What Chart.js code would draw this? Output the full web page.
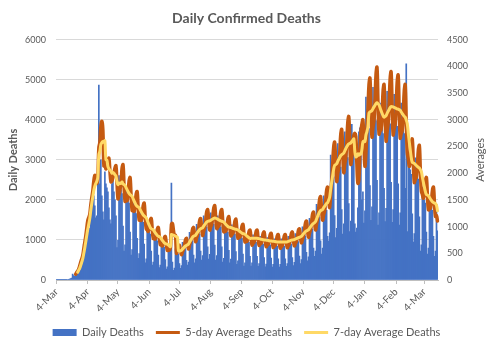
<!DOCTYPE html>
<html><head><meta charset="utf-8">
<script src="https://cdn.jsdelivr.net/npm/chart.js@4.4.1/dist/chart.umd.min.js"></script>
<style>html,body{margin:0;padding:0;background:#fff;}#wrap{width:493px;height:345px;}</style>
</head><body><div id="wrap"><canvas id="c" width="493" height="345"></canvas></div>
<script>
const monthNames = ['Jan','Feb','Mar','Apr','May','Jun','Jul','Aug','Sep','Oct','Nov','Dec'];
const tickLabels = ['4-Mar','4-Apr','4-May','4-Jun','4-Jul','4-Aug','4-Sep','4-Oct','4-Nov','4-Dec','4-Jan','4-Feb','4-Mar'];

const dailyDeaths = [
2,1,2,3,
4,5,6,8,7,10,9,
13,19,25,33,45,150,110,
100,130,225,260,300,400,480,
520,580,900,1000,1100,1250,1300,
1200,1300,1950,1950,1950,2100,1850,
1550,1600,2500,4870,2400,3000,2100,
1700,1500,2700,2400,2300,2200,1800,
1500,1400,2400,2500,2200,2000,1600,
810,990,2610,2430,2250,2160,1350,
720,880,2320,2160,2000,1920,1200,
620,760,2000,1860,1730,1660,1040,
540,660,1740,1620,1500,1440,900,
430,530,1390,1300,1200,1150,720,
370,450,1190,1110,1030,980,620,
310,370,990,920,850,820,510,
270,330,870,810,750,2420,450,
240,300,780,730,680,650,410,
290,360,940,880,810,780,490,
370,450,1190,1110,1030,980,620,
430,530,1390,1300,1200,1150,720,
500,610,1600,1490,1380,1320,830,
520,640,1680,1570,1450,1390,870,
500,610,1600,1490,1380,1320,830,
450,540,1440,1340,1240,1190,740,
430,520,1380,1280,1190,1140,710,
390,480,1260,1170,1090,1040,650,
350,430,1130,1050,980,940,590,
350,430,1130,1050,980,940,590,
340,410,1090,1010,940,900,560,
330,400,1060,990,910,880,550,
320,390,1030,960,890,850,530,
320,390,1030,960,890,850,530,
340,410,1090,1010,940,900,560,
360,440,1160,1080,1000,960,600,
410,510,1330,1240,1150,1100,690,
480,580,1540,1430,1330,1270,800,
590,720,1890,1760,1630,1560,980,
650,800,2100,1960,1810,1740,1090,
970,1180,3120,2900,2690,2580,1610,
1060,1290,3410,3170,2940,2820,1760,
1150,1400,3700,3440,3190,3060,1910,
1210,1470,3890,3620,3350,1400,1200,
1300,1800,3700,3800,3300,2000,2200,
1420,1730,4570,4250,3940,3780,2360,
1490,1830,4810,4480,4150,3980,2490,
1370,1680,4420,4120,3810,3660,2290,
1460,1790,4710,4390,4060,3900,2440,
1440,1760,4640,4320,4000,3840,2400,
1370,1680,4420,4120,3810,3660,2290,
5400,1210,3190,2970,2750,2640,1650,
950,1160,3050,2840,2630,2520,1580,
720,880,2320,2160,2000,1920,1200,
650,800,2100,1960,1810,1740,1090,
590,720,1890,1230
];

const avg5Day = [
null,null,null,null,null,null,null,null,null,null,null,null,null,null,null,null,null,null,null,
107,143,165,203,263,333,
392,456,576,696,820,966,1110,
1170,1230,1400,1540,1670,1850,1960,
1880,1810,1920,2474,2584,2874,2974,
2814,2140,2200,2080,2120,2220,2280,
2040,1840,1860,1920,2000,2100,2140,
1822,1520,1602,1688,1818,2088,2160,
1782,1472,1486,1486,1616,1856,1920,
1580,1300,1300,1289,1394,1601,1656,
1364,1123,1126,1119,1212,1392,1440,
1178,960,938,910,970,1114,1152,
948,778,776,767,828,951,984,
807,661,653,640,687,789,816,
673,555,559,558,606,1036,1060,
935,832,839,500,545,626,648,
550,476,530,575,657,754,780,
666,580,656,721,828,951,984,
832,717,790,853,970,1114,1152,
973,834,913,980,1111,1276,1320,
1105,936,997,1047,1172,1346,1392,
1155,962,991,1010,1111,1276,1320,
1090,902,914,917,1000,1148,1188,
987,824,852,871,960,1102,1140,
943,782,797,804,879,1009,1044,
862,713,721,724,788,905,936,
780,655,686,710,788,905,936,
778,649,672,687,758,870,900,
749,626,651,668,737,847,876,
728,609,633,650,717,824,852,
710,596,625,647,717,824,852,
714,604,645,677,758,870,900,
755,640,685,721,808,928,960,
811,696,763,819,929,1067,1104,
932,801,878,944,1071,1230,1272,
1082,938,1050,1147,1313,1508,1560,
1314,1122,1218,1297,1465,1682,1740,
1514,1358,1620,1852,2172,2494,2580,
2169,1846,1991,2109,2374,2726,2820,
2369,2014,2167,2291,2576,2958,3060,
2562,2168,2308,2420,2708,2746,2692,
2174,1810,1880,2360,2780,2920,3000,
2544,2130,2384,2834,3182,3654,3780,
3166,2680,2856,2996,3353,3851,3984,
3296,2735,2790,2816,3081,3538,3660,
3069,2602,2783,2928,3283,3770,3900,
3246,2720,2836,2920,3232,3712,3840,
3187,2658,2743,2798,3081,3538,3660,
2974,2392,2268,2130,2222,2552,2640,
2191,1828,1887,1926,2121,2436,2520,
2055,1664,1603,1531,1616,1856,1920,
1587,1314,1335,1342,1465,1682,1740,
1438,1190,1206,1104
];

const avg7Day = [
null,null,null,null,null,null,null,null,null,null,null,null,null,null,null,null,null,null,null,null,null,
146,182,218,271,
331,395,491,597,711,833,950,
1047,1150,1300,1436,1557,1679,1757,
1807,1850,1929,2346,2410,2539,2574,
2596,2581,2610,2257,2243,2129,2086,
2057,2043,2000,2014,2000,1971,1943,
1844,1786,1816,1806,1813,1836,1800,
1787,1772,1730,1692,1656,1622,1600,
1586,1568,1523,1480,1441,1403,1380,
1369,1355,1317,1283,1250,1220,1200,
1184,1165,1116,1069,1027,985,960,
951,940,911,884,859,835,820,
812,800,771,744,719,695,680,
674,669,652,637,623,852,843,
840,834,822,810,799,546,540,
547,556,579,600,620,638,650,
660,674,710,742,772,802,820,
829,840,869,896,921,945,960,
969,980,1009,1036,1061,1085,1100,
1104,1109,1121,1133,1143,1154,1160,
1156,1151,1139,1127,1117,1106,1100,
1093,1085,1062,1041,1021,1002,990,
988,984,977,968,961,954,950,
945,938,923,906,892,879,870,
864,858,839,822,805,790,780,
780,780,780,780,780,780,780,
778,775,770,763,759,753,750,
749,747,744,739,735,732,730,
728,728,724,720,716,712,710,
710,710,710,710,710,710,710,
713,715,725,731,739,746,750,
753,757,768,777,786,794,800,
808,818,842,866,886,908,920,
929,940,969,996,1021,1045,1060,
1075,1094,1144,1190,1233,1274,1300,
1310,1321,1353,1381,1408,1434,1450,
1495,1550,1696,1830,1955,2075,2150,
2162,2179,2221,2259,2294,2329,2350,
2363,2379,2421,2459,2495,2528,2550,
2559,2569,2596,2621,2644,2407,2306,
2319,2366,2339,2364,2357,2443,2586,
2603,2593,2717,2781,2873,3127,3150,
3160,3175,3210,3243,3273,3302,3320,
3303,3281,3226,3173,3125,3079,3050,
3063,3079,3121,3159,3194,3228,3250,
3247,3243,3233,3223,3214,3206,3200,
3190,3178,3148,3118,3092,3066,3050,
2996,2929,2753,2589,2437,2291,2200,
2193,2185,2165,2145,2128,2110,2100,
2068,2029,1925,1829,1740,1654,1600,
1591,1578,1548,1518,1491,1466,1450,
1441,1430,1400,1296
];

const categories = dailyDeaths.map((_, i) => {
  const d = new Date(Date.UTC(2020, 2, 4 + i));
  return d.getUTCDate() + '-' + monthNames[d.getUTCMonth()];
});

const FONT = 'Lato, "Open Sans", sans-serif';
Chart.defaults.font.family = FONT;
Chart.defaults.color = '#595959';

const seriesColors = ['#4472C4', '#C55A11', '#FFD966'];
const legendWidths = [7, 3, 3];

const rightTitle = {
  id: 'rightTitle',
  afterDraw(chart) {
    const { ctx, chartArea } = chart;
    ctx.save();
    ctx.translate(480, (chartArea.top + chartArea.bottom) / 2);
    ctx.rotate(-Math.PI / 2);
    ctx.font = '11px ' + FONT;
    ctx.fillStyle = '#595959';
    ctx.textAlign = 'center';
    ctx.textBaseline = 'middle';
    ctx.fillText('Averages', 0, 0);
    ctx.restore();
  }
};

new Chart(document.getElementById('c'), {
  type: 'bar',
  data: {
    labels: categories,
    datasets: [
      { type: 'bar', label: 'Daily Deaths', data: dailyDeaths, backgroundColor: seriesColors[0],
        borderWidth: 0, barPercentage: 1, categoryPercentage: 1, yAxisID: 'y', order: 3 },
      { type: 'line', label: '5-day Average Deaths', data: avg5Day, borderColor: seriesColors[1],
        backgroundColor: seriesColors[1], borderWidth: 3.5, pointRadius: 0, tension: 0.4,
        yAxisID: 'y1', order: 2, borderJoinStyle: 'round', borderCapStyle: 'round' },
      { type: 'line', label: '7-day Average Deaths', data: avg7Day, borderColor: seriesColors[2],
        backgroundColor: seriesColors[2], borderWidth: 3, pointRadius: 0, tension: 0.4,
        yAxisID: 'y1', order: 1, borderJoinStyle: 'round', borderCapStyle: 'round' }
    ]
  },
  options: {
    responsive: false,
    animation: false,
    devicePixelRatio: 1,
    layout: { padding: { left: 0, right: 0, top: 0, bottom: -3 } },
    plugins: {
      title: { display: true, text: 'Daily Confirmed Deaths', color: '#595959',
        font: { size: 14, weight: 'bold' }, padding: { top: 10, bottom: 13 } },
      legend: {
        position: 'bottom',
        labels: {
          usePointStyle: true, pointStyleWidth: 24, boxHeight: 7, padding: 12,
          color: '#595959', font: { size: 11 },
          sort: (a, b) => a.datasetIndex - b.datasetIndex,
          generateLabels(chart) {
            const items = Chart.defaults.plugins.legend.labels.generateLabels(chart);
            items.forEach(it => {
              it.pointStyle = 'line';
              it.strokeStyle = seriesColors[it.datasetIndex];
              it.fillStyle = seriesColors[it.datasetIndex];
              it.lineWidth = legendWidths[it.datasetIndex];
            });
            return items;
          }
        }
      },
      tooltip: { enabled: false }
    },
    scales: {
      x: {
        offset: true,
        grid: { display: true, drawOnChartArea: false, drawTicks: true, tickLength: 4, color: '#bfbfbf', offset: false },
        border: { display: true, color: '#bfbfbf' },
        ticks: { autoSkip: false, maxRotation: 45, minRotation: 45, color: '#595959', font: { size: 10 }, padding: 2,
          callback(v) { return this.getLabelForValue(v); } },
        afterBuildTicks(scale) { scale.ticks = scale.ticks.filter(t => tickLabels.includes(categories[t.value])); },
        afterFit(scale) { scale.height = 35; }
      },
      y: {
        position: 'left', min: 0, max: 6000,
        ticks: { stepSize: 1000, color: '#595959', font: { size: 9 }, padding: 10,
          callback(v) { return String(v); } },
        grid: { color: '#d9d9d9', drawTicks: false },
        border: { display: false },
        title: { display: true, text: 'Daily Deaths', color: '#595959', font: { size: 11, weight: 'bold' }, padding: { top: 7, bottom: 0 } },
        afterFit(scale) { scale.width = 56; }
      },
      y1: {
        position: 'right', min: 0, max: 4500,
        ticks: { stepSize: 500, color: '#595959', font: { size: 9 }, padding: 9,
          callback(v) { return String(v); } },
        grid: { drawOnChartArea: false, drawTicks: false },
        border: { display: false },
        afterFit(scale) { scale.width = 55; }
      }
    }
  },
  plugins: [rightTitle]
});
</script>
</body></html>
